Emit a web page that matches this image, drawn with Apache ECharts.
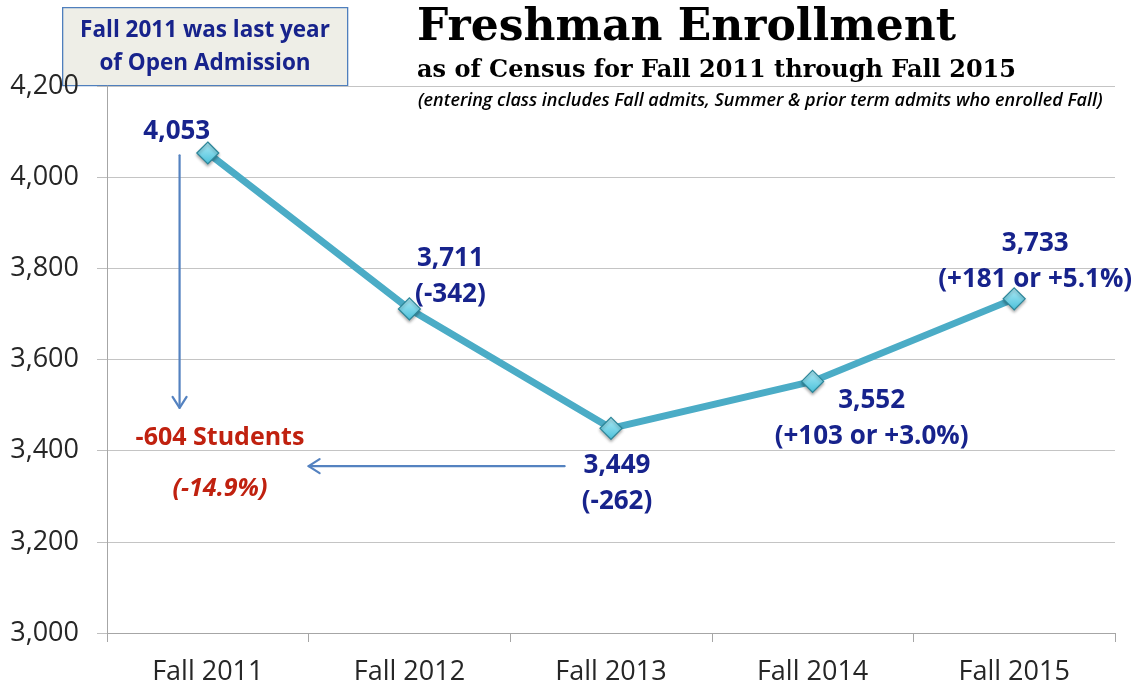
<!DOCTYPE html>
<html>
<head>
<meta charset="utf-8">
<script src="https://cdn.jsdelivr.net/npm/echarts@6/dist/echarts.min.js"></script>
<style>
html,body{margin:0;padding:0;background:#fff;}
#chart{width:1141px;height:687px;}
</style>
</head>
<body>
<div id="chart"></div>
<script>
// ---- data ----
const categories = ['Fall 2011', 'Fall 2012', 'Fall 2013', 'Fall 2014', 'Fall 2015'];
const enrollment = [4053, 3711, 3449, 3552, 3733];
const changeNotes = ['', '(-342)', '(-262)', '(+103 or +3.0%)', '(+181 or +5.1%)'];
const yMin = 3000, yMax = 4200, yStep = 200;
// annotation arrows in data space: [xIndex, yValue] pairs (x on a 0..4 index scale)
const arrowStarts = [[-0.14, 4048], [1.77, 3366]];
const arrowEnds = [[-0.14, 3494], [0.50, 3366]];
const titleText = 'Freshman Enrollment';
const subtitleText = 'as of Census for Fall 2011 through Fall 2015';
const noteText = '(entering class includes Fall admits, Summer & prior term admits who enrolled Fall)';
const boxLines = ['Fall 2011 was last year', 'of Open Admission'];
const dropText = ['-604 Students', '(-14.9%)'];

// ---- styling ----
const NAVY = '#17238c';
const RED = '#c0210f';
const labelOffsets = [[-31, -21], [41, -32], [6, 55], [59, 37], [21, -37]];

const fmt = v => v.toLocaleString('en-US');

const chart = echarts.init(document.getElementById('chart'), null, {renderer: 'canvas'});

const seriesData = enrollment.map((v, i) => ({
  value: v,
  label: {
    formatter: changeNotes[i] ? fmt(v) + '\n' + changeNotes[i] : fmt(v),
    offset: labelOffsets[i]
  }
}));

const option = {
  backgroundColor: '#ffffff',
  animation: false,
  grid: {left: 107, right: 26, top: 86, bottom: 54, containLabel: false},
  xAxis: [{
    type: 'category',
    data: categories,
    boundaryGap: true,
    axisLine: {show: true, onZero: false, lineStyle: {color: '#a6a6a6', width: 1}},
    axisTick: {show: true, length: 9, interval: 0, alignWithLabel: false, lineStyle: {color: '#a6a6a6'}},
    axisLabel: {margin: 26, fontSize: 27, fontFamily: 'Open Sans', color: '#262626', interval: 0},
    splitLine: {show: false}
  }, {
    type: 'value', min: -0.5, max: 4.5, show: false, gridIndex: 0
  }],
  yAxis: {
    type: 'value',
    min: yMin, max: yMax, interval: yStep,
    axisLine: {show: true, onZero: false, lineStyle: {color: '#a6a6a6', width: 1}},
    axisTick: {show: true, length: 10, lineStyle: {color: '#bfbfbf'}},
    axisLabel: {
      margin: 28, fontSize: 27, fontFamily: 'Open Sans', color: '#262626',
      formatter: v => fmt(v)
    },
    splitLine: {show: true, lineStyle: {color: '#c4c4c4', width: 1}}
  },
  series: [{
    type: 'line',
    data: seriesData,
    symbol: 'diamond',
    symbolSize: 22,
    lineStyle: {color: '#4bacc6', width: 7},
    itemStyle: {
      color: new echarts.graphic.LinearGradient(0, 0, 0, 1, [
        {offset: 0, color: '#b2ecf7'},
        {offset: 1, color: '#48c0da'}
      ]),
      borderColor: '#2b8598',
      borderWidth: 1.2,
      shadowColor: 'rgba(0,0,0,0.3)',
      shadowBlur: 3,
      shadowOffsetY: 2
    },
    label: {
      show: true,
      position: 'inside',
      fontSize: 26,
      fontWeight: 'bold',
      fontFamily: 'Open Sans',
      color: NAVY,
      lineHeight: 36,
      align: 'center',
      verticalAlign: 'middle'
    },
    emphasis: {disabled: true},
    z: 3
  }, {
    type: 'custom',
    xAxisIndex: 1,
    yAxisIndex: 0,
    data: arrowStarts.map((s, i) => [s[0], s[1], arrowEnds[i][0], arrowEnds[i][1]]),
    renderItem: function (params, api) {
      const p1 = api.coord([api.value(0), api.value(1)]);
      const p2 = api.coord([api.value(2), api.value(3)]);
      const dx = p2[0] - p1[0], dy = p2[1] - p1[1];
      const len = Math.sqrt(dx * dx + dy * dy);
      const ux = dx / len, uy = dy / len;
      const hl = 11, hw = 7;
      const a1 = [p2[0] - ux * hl - uy * hw, p2[1] - uy * hl + ux * hw];
      const a2 = [p2[0] - ux * hl + uy * hw, p2[1] - uy * hl - ux * hw];
      const st = {stroke: '#5482c0', lineWidth: 2.2, fill: null, lineCap: 'round', lineJoin: 'round'};
      return {
        type: 'group',
        children: [
          {type: 'line', shape: {x1: p1[0], y1: p1[1], x2: p2[0], y2: p2[1]}, style: st},
          {type: 'polyline', shape: {points: [a1, p2, a2]}, style: st}
        ]
      };
    },
    silent: true,
    z: 2
  }],
  graphic: [
    {
      type: 'rect', left: 62, top: 7, z: -1,
      shape: {width: 285, height: 78},
      style: {fill: '#eeeee7', stroke: '#4f7fbd', lineWidth: 1.3}
    },
    {
      type: 'text', x: 205, y: 31,
      style: {text: boxLines[0], fill: NAVY, font: 'bold 22.5px "Open Sans"', align: 'center', verticalAlign: 'middle'},
      z: 11
    },
    {
      type: 'text', x: 205, y: 64,
      style: {text: boxLines[1], fill: NAVY, font: 'bold 22.5px "Open Sans"', align: 'center', verticalAlign: 'middle'},
      z: 11
    },
    {
      type: 'text', x: 417, y: 29,
      style: {text: titleText, fill: '#000', font: 'bold 44px "DejaVu Serif"', align: 'left', verticalAlign: 'middle'},
      z: 11
    },
    {
      type: 'text', x: 417, y: 71,
      style: {text: subtitleText, fill: '#000', font: 'bold 24px "DejaVu Serif"', align: 'left', verticalAlign: 'middle'},
      z: 11
    },
    {
      type: 'text', x: 418, y: 101,
      style: {text: noteText, fill: '#000', font: 'italic 600 18px "Open Sans"', align: 'left', verticalAlign: 'middle'},
      z: 11
    },
    {
      type: 'text', x: 220, y: 438,
      style: {text: dropText[0], fill: RED, font: 'bold 25px "Open Sans"', align: 'center', verticalAlign: 'middle'},
      z: 11
    },
    {
      type: 'text', x: 220, y: 489,
      style: {text: dropText[1], fill: RED, font: 'italic bold 25px "Open Sans"', align: 'center', verticalAlign: 'middle'},
      z: 11
    }
  ]
};

chart.setOption(option);
</script>
</body>
</html>
